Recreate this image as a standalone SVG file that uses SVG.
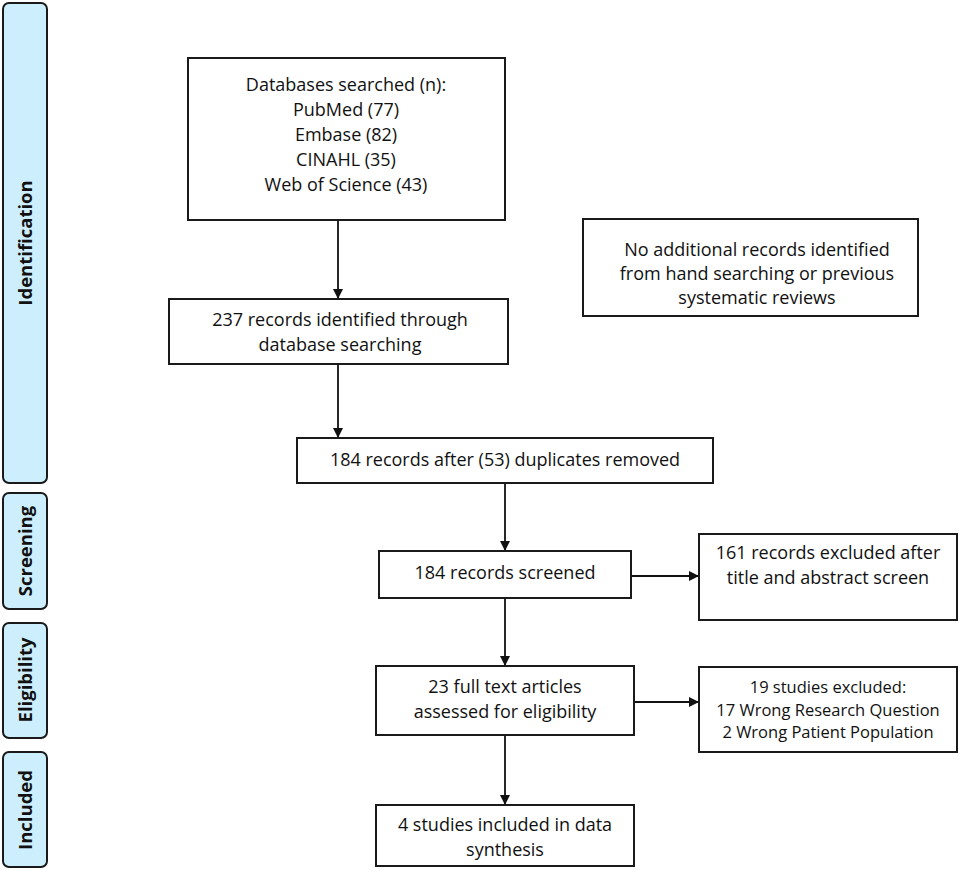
<svg xmlns="http://www.w3.org/2000/svg" width="960" height="870" viewBox="0 0 960 870">
<style>
.bg{fill:#ffffff}
.phase{fill:#cdeefc;stroke:#1a1a1a;stroke-width:2}
.phase-t{font-family:"Open Sans","Noto Sans",sans-serif;font-weight:bold;font-size:18.5px;fill:#111;text-anchor:middle}
.box{fill:#ffffff;stroke:#1a1a1a;stroke-width:2}
.t{font-family:"Open Sans","Noto Sans",sans-serif;font-size:18px;fill:#111;text-anchor:middle}
.ts{font-family:"Open Sans","Noto Sans",sans-serif;font-size:16.5px;fill:#111;text-anchor:middle}
.conn{stroke:#111;stroke-width:1.8;fill:none;marker-end:url(#ah)}
</style>
<defs>
<marker id="ah" viewBox="0 0 10 10" refX="10" refY="5" markerWidth="10" markerHeight="10" markerUnits="userSpaceOnUse" orient="auto">
<path d="M0,0 L10,5 L0,10 z" fill="#111"/>
</marker>
</defs>
<rect class="bg" x="0" y="0" width="960" height="870"/>

<g id="phase-identification">
<rect class="phase" x="3" y="3" width="44" height="480" rx="6"/>
<text class="phase-t" transform="translate(32,243) rotate(-90)">Identification</text>
</g>
<g id="phase-screening">
<rect class="phase" x="3" y="493" width="44" height="116" rx="6"/>
<text class="phase-t" transform="translate(32,551) rotate(-90)">Screening</text>
</g>
<g id="phase-eligibility">
<rect class="phase" x="3" y="623" width="44" height="115" rx="6"/>
<text class="phase-t" transform="translate(32,680) rotate(-90)">Eligibility</text>
</g>
<g id="phase-included">
<rect class="phase" x="3" y="752" width="44" height="115" rx="6"/>
<text class="phase-t" transform="translate(32,810) rotate(-90)">Included</text>
</g>

<g id="connectors">
<line class="conn" x1="338" y1="220" x2="338" y2="299"/>
<line class="conn" x1="338" y1="364" x2="338" y2="438"/>
<line class="conn" x1="505" y1="483" x2="505" y2="551"/>
<line class="conn" x1="631" y1="576" x2="699" y2="576"/>
<line class="conn" x1="505" y1="598" x2="505" y2="666"/>
<line class="conn" x1="634" y1="702" x2="699" y2="702"/>
<line class="conn" x1="505" y1="735" x2="505" y2="805"/>
</g>

<g id="databases">
<rect class="box" x="188" y="58" width="317" height="162"/>
<text class="t" x="346" y="91">Databases searched (n):</text>
<text class="t" x="346" y="116">PubMed (77)</text>
<text class="t" x="346" y="141">Embase (82)</text>
<text class="t" x="346" y="166">CINAHL (35)</text>
<text class="t" x="346" y="191">Web of Science (43)</text>
</g>

<g id="no-additional">
<rect class="box" x="583" y="219" width="335" height="97"/>
<text class="t" x="757" y="256">No additional records identified</text>
<text class="t" x="757" y="280">from hand searching or previous</text>
<text class="t" x="757" y="304">systematic reviews</text>
</g>

<g id="identified">
<rect class="box" x="169" y="299" width="339" height="65"/>
<text class="t" x="340" y="326">237 records identified through</text>
<text class="t" x="340" y="351">database searching</text>
</g>

<g id="duplicates">
<rect class="box" x="297" y="438" width="416" height="45"/>
<text class="t" x="505" y="466">184 records after (53) duplicates removed</text>
</g>

<g id="screened">
<rect class="box" x="379" y="551" width="252" height="47"/>
<text class="t" x="505" y="579">184 records screened</text>
</g>

<g id="excluded-title">
<rect class="box" x="699" y="534" width="258" height="86"/>
<text class="t" x="828" y="559">161 records excluded after</text>
<text class="t" x="828" y="584">title and abstract screen</text>
</g>

<g id="fulltext">
<rect class="box" x="376" y="666" width="258" height="69"/>
<text class="t" x="505" y="693">23 full text articles</text>
<text class="t" x="505" y="718">assessed for eligibility</text>
</g>

<g id="excluded-studies">
<rect class="box" x="699" y="667" width="258" height="85"/>
<text class="ts" x="828" y="693">19 studies excluded:</text>
<text class="ts" x="828" y="716">17 Wrong Research Question</text>
<text class="ts" x="828" y="738">2 Wrong Patient Population</text>
</g>

<g id="included">
<rect class="box" x="376" y="805" width="258" height="61"/>
<text class="t" x="505" y="831">4 studies included in data</text>
<text class="t" x="505" y="856">synthesis</text>
</g>
</svg>
